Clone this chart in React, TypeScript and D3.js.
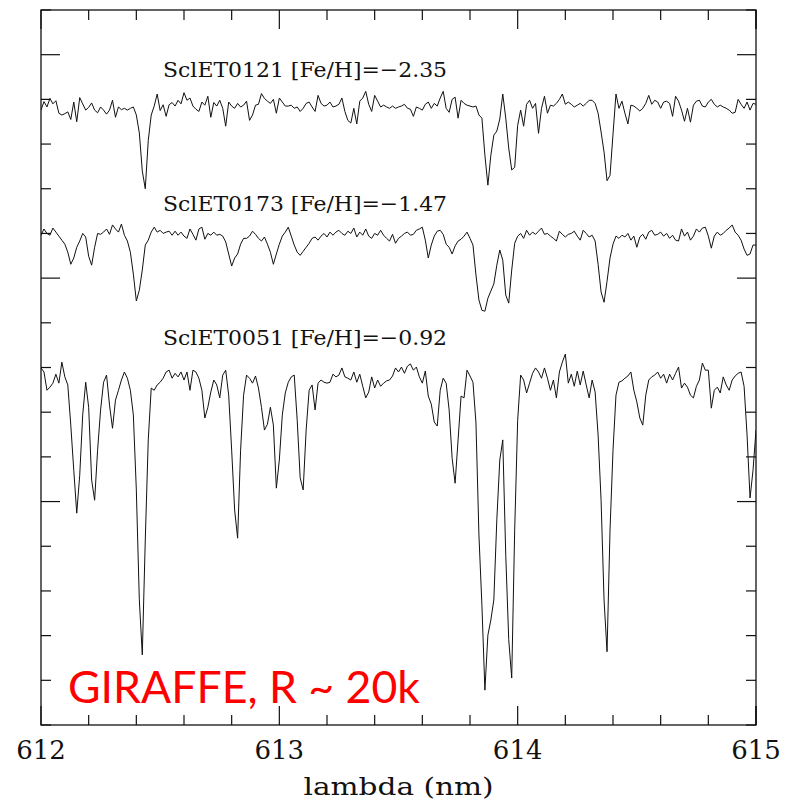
import React from "react";
import * as d3 from "d3";

// Normalised flux of three Sculptor giants, sampled evenly from 612 to 615 nm
const fluxET0121 = [
  0.976, 0.995, 0.983, 1.002, 0.990, 0.997, 0.969, 0.965, 0.968, 0.972,
  0.955, 0.994, 0.950, 1.004, 0.990, 0.976, 0.982, 0.992, 0.976, 0.970,
  0.983, 0.976, 0.967, 0.976, 0.998, 0.960, 0.983, 0.977, 0.980, 0.976,
  0.980, 0.983, 0.965, 0.925, 0.840, 0.800, 0.908, 0.965, 0.985, 1.012,
  0.975, 0.988, 0.962, 0.988, 0.993, 0.985, 0.998, 0.990, 1.015, 0.998,
  1.003, 0.985, 0.978, 0.973, 0.994, 0.987, 1.007, 0.960, 0.993, 0.985,
  0.998, 0.980, 0.940, 0.994, 0.985, 0.980, 0.991, 0.983, 0.987, 0.996,
  0.953, 0.965, 0.987, 0.989, 1.013, 1.002, 0.996, 0.991, 1.000, 0.969,
  1.003, 0.994, 0.985, 0.985, 0.987, 0.980, 0.983, 0.973, 0.980, 0.991,
  0.994, 0.983, 0.973, 1.009, 0.991, 0.985, 0.987, 0.994, 0.983, 0.985,
  0.989, 1.003, 0.973, 0.953, 0.947, 0.980, 0.945, 0.996, 1.003, 1.018,
  0.989, 0.973, 1.009, 0.996, 0.983, 0.987, 0.983, 0.980, 0.985, 0.980,
  0.983, 0.985, 0.989, 0.980, 0.978, 0.962, 0.983, 0.980, 0.976, 0.989,
  0.994, 0.980, 0.991, 0.985, 1.003, 1.018, 0.980, 0.971, 1.000, 1.005,
  0.958, 0.998, 0.991, 0.987, 0.985, 0.983, 0.985, 0.965, 0.958, 0.875,
  0.808, 0.875, 0.920, 0.929, 0.956, 1.012, 0.958, 0.891, 0.842, 0.848,
  0.942, 0.976, 0.940, 0.989, 0.998, 0.980, 0.991, 0.924, 0.980, 1.007,
  0.969, 0.987, 0.985, 0.991, 1.000, 1.012, 0.989, 0.994, 0.989, 0.983,
  0.987, 0.991, 0.985, 0.991, 0.998, 0.998, 0.991, 0.969, 0.927, 0.882,
  0.818, 0.830, 0.922, 1.012, 0.980, 0.996, 0.969, 0.945, 0.987, 0.985,
  0.980, 0.974, 0.980, 0.991, 1.009, 0.989, 0.998, 0.994, 0.980, 0.994,
  0.996, 0.991, 0.962, 1.007, 0.996, 0.976, 0.951, 0.980, 0.949, 0.987,
  0.996, 0.998, 0.985, 0.983, 0.994, 1.000, 0.989, 0.983, 0.987, 0.983,
  0.980, 0.976, 0.969, 0.971, 1.000, 0.989, 0.980, 0.994, 0.976, 0.991,
  0.989,
];

const fluxET0173 = [
  0.996, 1.010, 1.000, 0.996, 1.012, 1.003, 0.994, 0.985, 0.976, 0.958,
  0.931, 0.945, 0.969, 0.983, 1.000, 0.992, 0.949, 0.929, 0.969, 1.000,
  0.998, 1.003, 1.010, 0.998, 1.019, 1.010, 1.003, 1.021, 0.996, 0.983,
  0.958, 0.909, 0.849, 0.873, 0.918, 0.974, 0.985, 1.003, 1.014, 1.003,
  1.007, 1.000, 1.003, 1.005, 0.996, 1.005, 0.996, 1.003, 0.994, 0.989,
  1.010, 0.998, 0.985, 1.010, 1.014, 0.987, 1.000, 0.996, 1.003, 0.996,
  0.998, 0.994, 0.981, 0.954, 0.927, 0.945, 0.954, 0.976, 0.989, 0.989,
  0.994, 1.005, 0.998, 0.989, 0.983, 0.992, 0.976, 0.958, 0.931, 0.954,
  0.976, 0.994, 1.003, 1.014, 0.994, 0.974, 0.958, 0.951, 0.960, 0.969,
  0.978, 0.989, 0.992, 0.985, 0.994, 1.000, 0.992, 1.003, 0.996, 1.003,
  1.007, 1.000, 0.996, 1.005, 1.000, 1.012, 0.992, 1.003, 0.996, 1.010,
  0.994, 0.989, 1.000, 0.996, 1.007, 0.996, 0.989, 0.983, 0.998, 0.978,
  0.989, 0.994, 1.000, 1.003, 0.996, 0.998, 1.007, 1.010, 1.014, 0.985,
  0.945, 0.974, 0.994, 1.005, 1.007, 0.998, 0.976, 0.969, 0.954, 0.972,
  0.983, 0.987, 0.994, 1.003, 0.989, 0.974, 0.907, 0.851, 0.828, 0.826,
  0.855, 0.871, 0.887, 0.929, 0.963, 0.940, 0.862, 0.844, 0.918, 0.978,
  0.994, 1.000, 0.989, 1.007, 0.996, 1.003, 0.998, 1.005, 1.012, 0.998,
  1.000, 0.994, 0.989, 0.983, 1.005, 0.998, 0.992, 0.998, 1.000, 1.005,
  0.994, 0.985, 1.007, 1.000, 0.992, 0.996, 0.983, 0.931, 0.869, 0.846,
  0.893, 0.945, 0.976, 0.994, 0.989, 0.996, 0.992, 1.000, 0.985, 0.994,
  0.969, 0.992, 0.998, 0.987, 1.003, 1.007, 0.996, 0.998, 1.003, 0.994,
  1.000, 0.989, 0.996, 0.985, 0.983, 1.010, 0.994, 1.003, 0.985, 0.994,
  1.010, 1.003, 1.012, 1.014, 0.994, 0.967, 0.994, 1.003, 0.996, 1.000,
  1.007, 1.012, 1.019, 1.003, 0.996, 0.985, 0.965, 0.951, 0.954, 0.974,
  0.974,
];

const fluxET0051 = [
  0.999, 0.990, 0.949, 0.956, 0.965, 0.985, 0.965, 1.012, 0.979, 0.961,
  0.871, 0.770, 0.674, 0.759, 0.894, 0.967, 0.911, 0.748, 0.703, 0.815,
  0.905, 0.967, 0.983, 0.916, 0.864, 0.927, 0.949, 0.972, 0.990, 0.976,
  0.949, 0.894, 0.726, 0.480, 0.357, 0.614, 0.838, 0.954, 0.949, 0.961,
  0.967, 0.976, 0.990, 0.994, 0.976, 0.987, 0.979, 0.990, 0.972, 0.990,
  0.949, 0.994, 0.990, 0.976, 0.949, 0.887, 0.911, 0.945, 0.972, 0.961,
  0.932, 0.983, 0.994, 0.938, 0.815, 0.681, 0.618, 0.815, 0.938, 0.983,
  0.976, 0.965, 0.981, 0.954, 0.911, 0.860, 0.873, 0.911, 0.871, 0.730,
  0.793, 0.894, 0.943, 0.967, 0.979, 0.983, 0.882, 0.753, 0.726, 0.860,
  0.949, 0.961, 0.905, 0.965, 0.972, 0.967, 0.965, 0.967, 0.985, 0.979,
  0.983, 0.999, 0.979, 0.976, 0.972, 0.990, 0.967, 0.985, 0.958, 0.932,
  0.945, 0.979, 0.954, 0.972, 0.958, 0.965, 0.970, 0.972, 0.981, 0.999,
  0.990, 1.001, 0.987, 1.003, 1.008, 0.994, 1.001, 0.979, 0.965, 0.992,
  0.936, 0.918, 0.878, 0.869, 0.949, 0.976, 0.965, 0.905, 0.797, 0.741,
  0.838, 0.936, 0.932, 0.994, 0.981, 0.967, 0.876, 0.625, 0.468, 0.278,
  0.401, 0.435, 0.480, 0.659, 0.793, 0.838, 0.580, 0.391, 0.305, 0.636,
  0.882, 0.983, 0.972, 0.943, 0.965, 0.987, 0.999, 0.990, 0.976, 0.999,
  0.976, 0.949, 0.972, 0.932, 0.990, 1.012, 1.030, 0.965, 0.985, 0.958,
  0.992, 0.961, 0.992, 0.961, 0.932, 0.972, 0.945, 0.849, 0.703, 0.480,
  0.364, 0.636, 0.815, 0.938, 0.967, 0.970, 0.976, 0.981, 0.990, 0.949,
  0.923, 0.887, 0.871, 0.938, 0.972, 0.979, 0.983, 0.990, 0.976, 0.985,
  0.965, 0.985, 0.972, 0.987, 1.001, 0.954, 0.965, 0.956, 0.938, 0.932,
  0.958, 0.972, 1.010, 0.994, 0.994, 0.909, 0.949, 0.956, 0.943, 0.979,
  0.961, 0.949, 0.972, 0.981, 0.987, 0.990, 0.958, 0.849, 0.708, 0.770,
  0.860,
];

const starNames = ["SclET0121", "SclET0173", "SclET0051"];
const metallicities = ["\u22122.35", "\u22121.47", "\u22120.92"];
const verticalOffsets = [0.4, 0.1, -0.2];
const spectra = [fluxET0121, fluxET0173, fluxET0051];

const lambdaRange: [number, number] = [612, 615];
const fluxRange: [number, number] = [0, 1.6];
const xMajorTicks = [612, 613, 614, 615];
const annotation = "GIRAFFE, R ~ 20k";

const WIDTH = 787;
const HEIGHT = 802;
const PLOT = { left: 41, right: 756, top: 10, bottom: 725 };

export default function App() {
  const x = d3.scaleLinear().domain(lambdaRange).range([PLOT.left, PLOT.right]);
  const y = d3.scaleLinear().domain(fluxRange).range([PLOT.bottom, PLOT.top]);

  const xMinor = d3.range(0, 16).map((i) => lambdaRange[0] + i * 0.2);
  const yMinor = d3.range(0, 17).map((i) => i * 0.1);
  const isMajorX = (v: number) => Math.abs(v - Math.round(v)) < 1e-6;
  const isMajorY = (v: number) => Math.abs(v * 2 - Math.round(v * 2)) < 1e-6 && v > 0 && v < 1.6;

  const paths = spectra.map((flux, k) => {
    const n = flux.length;
    const step = (lambdaRange[1] - lambdaRange[0]) / (n - 1);
    const pts = flux.map((f, i) => ({ wl: lambdaRange[0] + i * step, f: f + verticalOffsets[k] }));
    return d3
      .line<{ wl: number; f: number }>()
      .x((d) => x(d.wl))
      .y((d) => y(d.f))(pts) as string;
  });

  const serif = "'DejaVu Serif', serif";

  return (
    <svg
      width={WIDTH}
      height={HEIGHT}
      style={{ position: "absolute", left: 0, top: 0, background: "#fff" }}
    >
      <defs>
        <clipPath id="plot-area">
          <rect x={PLOT.left} y={PLOT.top} width={PLOT.right - PLOT.left} height={PLOT.bottom - PLOT.top} />
        </clipPath>
      </defs>
      <rect x={0} y={0} width={WIDTH} height={HEIGHT} fill="#fff" />

      {/* spectra */}
      <g clipPath="url(#plot-area)">
        {paths.map((d, k) => (
          <path key={k} d={d} fill="none" stroke="#111" strokeWidth={1} strokeLinejoin="round" />
        ))}
      </g>

      {/* star labels */}
      {starNames.map((name, k) => (
        <text
          key={name}
          x={x(613.108)}
          y={y(verticalOffsets[k] + 1.05)}
          textAnchor="middle"
          fontFamily={serif}
          fontSize={21}
          textLength={284}
          lengthAdjust="spacingAndGlyphs"
          fill="#111"
        >
          {`${name} [Fe/H]=${metallicities[k]}`}
        </text>
      ))}

      {/* frame */}
      <rect
        x={PLOT.left}
        y={PLOT.top}
        width={PLOT.right - PLOT.left}
        height={PLOT.bottom - PLOT.top}
        fill="none"
        stroke="#111"
        strokeWidth={1.3}
      />

      {/* x ticks on bottom and top */}
      {xMinor.concat([lambdaRange[1]]).map((v, i) => {
        const len = isMajorX(v) ? 19 : 10;
        const px = x(v);
        return (
          <g key={`xt${i}`} stroke="#111" strokeWidth={1.2}>
            <line x1={px} x2={px} y1={PLOT.bottom} y2={PLOT.bottom - len} />
            <line x1={px} x2={px} y1={PLOT.top} y2={PLOT.top + len} />
          </g>
        );
      })}

      {/* y ticks on left and right */}
      {yMinor.map((v, i) => {
        const len = isMajorY(v) ? 19 : 10;
        const py = y(v);
        return (
          <g key={`yt${i}`} stroke="#111" strokeWidth={1.2}>
            <line x1={PLOT.left} x2={PLOT.left + len} y1={py} y2={py} />
            <line x1={PLOT.right} x2={PLOT.right - len} y1={py} y2={py} />
          </g>
        );
      })}

      {/* x tick labels */}
      {xMajorTicks.map((v) => (
        <text
          key={`xl${v}`}
          x={x(v)}
          y={759}
          textAnchor="middle"
          fontFamily={serif}
          fontSize={26}
          fill="#111"
        >
          {v}
        </text>
      ))}

      {/* x axis title */}
      <text
        x={(PLOT.left + PLOT.right) / 2}
        y={795}
        textAnchor="middle"
        fontFamily={serif}
        fontSize={25}
        textLength={190}
        lengthAdjust="spacingAndGlyphs"
        fill="#111"
      >
        lambda (nm)
      </text>

      {/* instrument annotation */}
      <text
        x={68}
        y={703}
        fontFamily="Lato, 'Open Sans', sans-serif"
        fontSize={44}
        textLength={352}
        lengthAdjust="spacingAndGlyphs"
        fill="#ff0000"
      >
        {annotation}
      </text>
    </svg>
  );
}
